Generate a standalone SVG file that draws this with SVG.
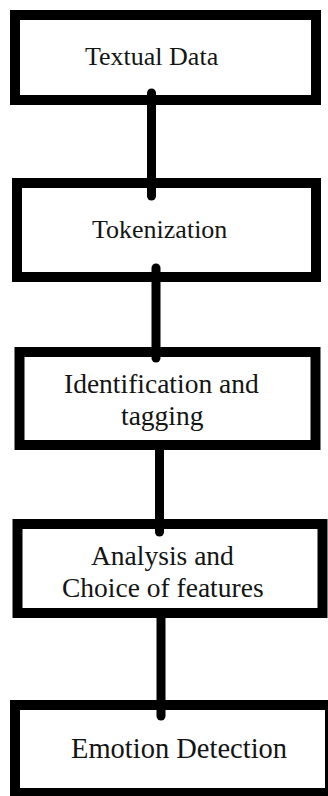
<svg xmlns="http://www.w3.org/2000/svg" width="328" height="796" viewBox="0 0 328 796">
<style>
.box{fill:#ffffff;stroke:#000000;stroke-width:10}
.conn{stroke:#000000;stroke-width:9;stroke-linecap:round;fill:none}
.lbl{font-family:"Liberation Serif","Times New Roman",serif;fill:#141414}
.s1{font-size:26px}
.s2{font-size:28.5px}
.s3{font-size:27.5px}
</style>
<rect width="328" height="796" fill="#ffffff"/>
<g id="n1"><rect class="box" x="15" y="15" width="301" height="85"/><text class="lbl s1" x="85" y="65">Textual Data</text></g>
<g id="n2"><rect class="box" x="17" y="183" width="299" height="94"/><text class="lbl s1" x="92" y="238">Tokenization</text></g>
<g id="n3"><rect class="box" x="19.5" y="352" width="296" height="93"/><text class="lbl s3" x="64" y="393">Identification and</text><text class="lbl s3" x="121" y="425">tagging</text></g>
<g id="n4"><rect class="box" x="17.5" y="524" width="305" height="89"/><text class="lbl s3" x="91" y="565">Analysis and</text><text class="lbl s3" x="62" y="597">Choice of features</text></g>
<g id="n5"><rect class="box" x="15" y="705" width="315" height="88"/><text class="lbl s2" x="71" y="758">Emotion Detection</text></g>
<g id="connectors">
<line class="conn" x1="151.5" y1="93" x2="151.5" y2="196"/>
<line class="conn" x1="156" y1="268" x2="156" y2="358"/>
<line class="conn" x1="159.5" y1="448" x2="159.5" y2="532"/>
<line class="conn" x1="161" y1="616" x2="161" y2="716"/>
</g>
</svg>
